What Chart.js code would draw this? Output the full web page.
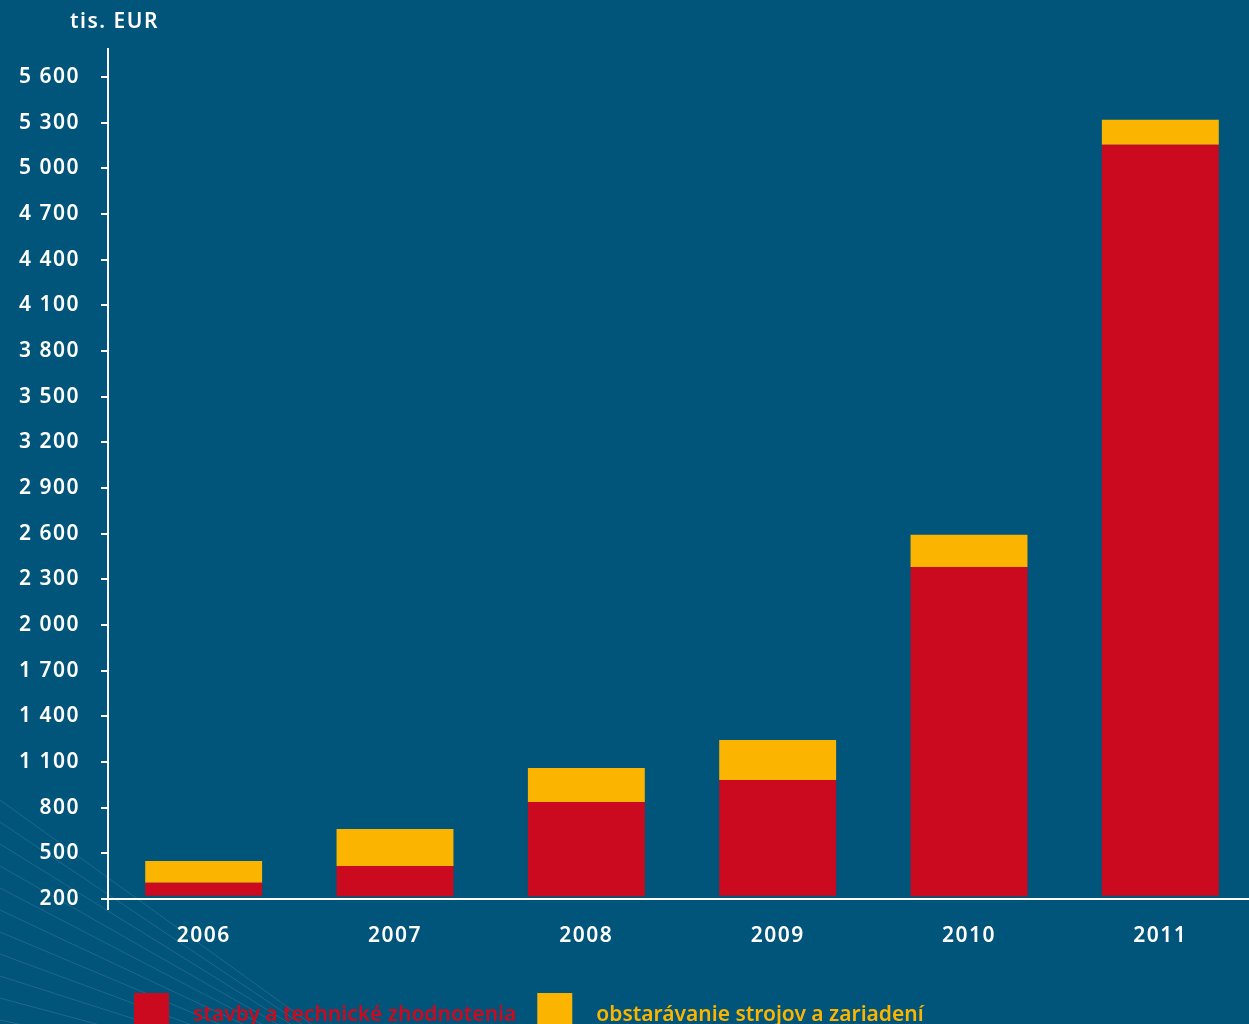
<!DOCTYPE html>
<html lang="sk">
  <head>
    <meta charset="UTF-8" />
    <title>Investície</title>
    <script src="https://cdn.jsdelivr.net/npm/chart.js"></script>
    <style>
      html, body {
        margin: 0;
        padding: 0;
        background: #01547a;
        overflow: hidden;
      }
      #chartContainer {
        width: 1256px;
        height: 1045px;
      }
    </style>
  </head>
  <body>
    <div id="chartContainer">
      <canvas id="investChart"></canvas>
    </div>

    <script>
      const years = ["2006", "2007", "2008", "2009", "2010", "2011"];
      const barBase = [221, 218, 218, 221, 218, 221];
      const stavby = [307, 417, 837, 982, 2381, 5154];
      const spolu = [450, 660, 1061, 1245, 2592, 5318];
      const tickValues = [200, 500, 800, 1100, 1400, 1700, 2000, 2300, 2600, 2900, 3200, 3500, 3800, 4100, 4400, 4700, 5000, 5300, 5600];
      const tickLabels = ["200", "500", "800", "1 100", "1 400", "1 700", "2 000", "2 300", "2 600", "2 900", "3 200", "3 500", "3 800", "4 100", "4 400", "4 700", "5 000", "5 300", "5 600"];

      const RED = "#cc0a1f";
      const YELLOW = "#fbb500";
      const FONT = "'Noto Sans', sans-serif";

      // fan of thin lines, bottom left corner, plus axis lines, unit label and legend
      const decorPlugin = {
        id: "decor",
        beforeDraw(chart) {
          const ctx = chart.ctx;
          ctx.save();
          ctx.strokeStyle = "rgba(255,255,255,0.12)";
          ctx.lineWidth = 1;
          for (let i = 0; i < 12; i++) {
            const y0 = 800 + i * 22;
            const slope = 0.72 - i * 0.05;
            ctx.beginPath();
            ctx.moveTo(0, y0);
            ctx.lineTo(800, y0 + slope * 800);
            ctx.stroke();
          }
          ctx.restore();
          // wider spacing for the library's tick labels
          ctx.letterSpacing = "1.5px";
        },
        afterDraw(chart) {
          const ctx = chart.ctx;
          const a = chart.chartArea;
          ctx.save();
          ctx.strokeStyle = "#ffffff";
          ctx.lineWidth = 2;
          ctx.beginPath();
          ctx.moveTo(a.left, a.top);
          ctx.lineTo(a.left, a.bottom + 11);
          ctx.moveTo(a.left - 7, a.bottom);
          ctx.lineTo(a.right, a.bottom);
          ctx.stroke();

          ctx.fillStyle = "#ffffff";
          ctx.font = "600 21px " + FONT;
          ctx.letterSpacing = "1.5px";
          ctx.textBaseline = "middle";
          ctx.fillText("tis. EUR", a.left - 38, 22);

          // legend
          let x = 134;
          const boxTop = 993, box = 35;
          ctx.font = "600 21px " + FONT;
          ctx.letterSpacing = "0px";
          ctx.textBaseline = "alphabetic";
          chart.data.datasets.forEach((ds) => {
            ctx.fillStyle = ds.backgroundColor;
            ctx.fillRect(x, boxTop, box, box);
            x += box + 24;
            ctx.fillText(ds.label, x, 1021);
            x += ctx.measureText(ds.label).width + 21;
          });
          ctx.restore();
        },
      };

      const ctx = document.getElementById("investChart").getContext("2d");
      new Chart(ctx, {
        type: "bar",
        data: {
          labels: years,
          datasets: [
            {
              label: "stavby a technické zhodnotenia",
              data: years.map((y, i) => [barBase[i], stavby[i]]),
              backgroundColor: RED,
              borderWidth: 0,
            },
            {
              label: "obstarávanie strojov a zariadení",
              data: years.map((y, i) => [stavby[i], spolu[i]]),
              backgroundColor: YELLOW,
              borderWidth: 0,
            },
          ],
        },
        options: {
          responsive: true,
          maintainAspectRatio: false,
          animation: false,
          layout: {
            padding: { top: 48, left: 0, right: 0, bottom: 0 },
          },
          datasets: {
            bar: {
              categoryPercentage: 1,
              barPercentage: 0.611,
            },
          },
          scales: {
            x: {
              stacked: true,
              border: { display: false },
              grid: { display: false, drawTicks: false },
              ticks: {
                color: "#ffffff",
                padding: 24,
                font: { family: FONT, size: 21, weight: "600" },
              },
              afterFit(scale) {
                scale.height = 146;
              },
            },
            y: {
              stacked: false,
              min: 200,
              max: 5790,
              border: { display: false },
              grid: {
                drawOnChartArea: false,
                color: "#ffffff",
                lineWidth: 2,
                tickLength: 7,
              },
              ticks: {
                color: "#ffffff",
                padding: 21,
                font: { family: FONT, size: 21, weight: "600" },
                callback: (v) => tickLabels[tickValues.indexOf(v)],
              },
              afterBuildTicks(scale) {
                scale.ticks = tickValues.map((v) => ({ value: v }));
              },
              afterFit(scale) {
                scale.width = 108;
              },
            },
          },
          plugins: {
            legend: { display: false },
            tooltip: { enabled: false },
          },
        },
        plugins: [decorPlugin],
      });
    </script>
  </body>
</html>
